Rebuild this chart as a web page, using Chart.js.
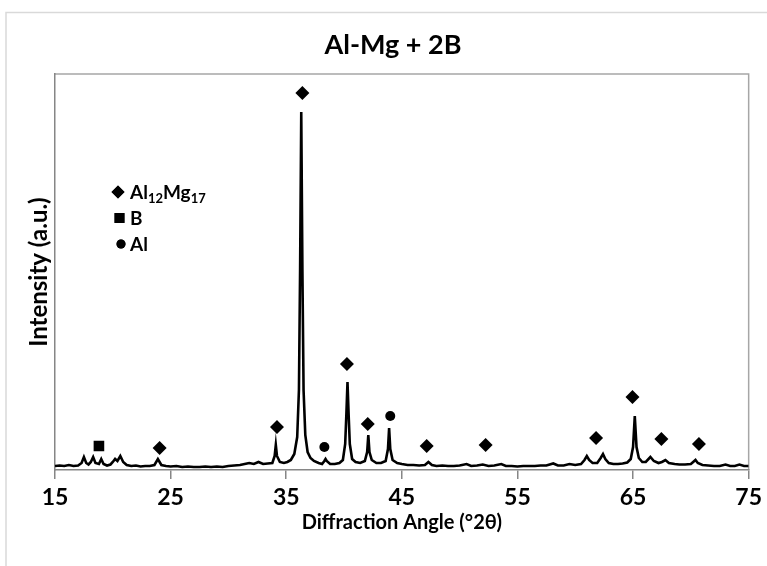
<!DOCTYPE html>
<html>
<head>
<meta charset="utf-8">
<script src="https://cdn.jsdelivr.net/npm/chart.js@4/dist/chart.umd.min.js"></script>
<style>
  html, body { margin: 0; padding: 0; background: #fff; }
  #wrap { width: 767px; height: 566px; position: relative; }
</style>
</head>
<body>
<div id="wrap"><canvas id="xrd"></canvas></div>
<script>
// scan profile: angle (deg 2theta) and intensity (a.u.)
const angles = [
  15.0, 15.4, 15.8, 16.2, 16.6, 17.0, 17.3, 17.5, 17.7, 17.9, 18.1, 18.3, 18.5, 18.8, 19.0, 19.2,
  19.5, 19.8, 20.0, 20.2, 20.4, 20.65, 20.9, 21.2, 21.6, 22.0, 22.4, 22.8, 23.2, 23.6, 23.9, 24.2,
  24.6, 25.0, 25.5, 26.0, 26.5, 27.0, 27.5, 28.0, 28.5, 29.0, 29.5, 30.0, 30.5, 31.0, 31.4, 31.8,
  32.2, 32.6, 33.0, 33.4, 33.8, 34.0, 34.1, 34.2, 34.45, 34.8, 35.1, 35.4, 35.7, 35.95, 36.1, 36.2,
  36.3, 36.4, 36.5, 36.65, 36.85, 37.1, 37.4, 37.8, 38.1, 38.3, 38.4, 38.5, 38.8, 39.2, 39.6, 39.9,
  40.1, 40.2, 40.3, 40.4, 40.5, 40.7, 41.0, 41.4, 41.8, 42.0, 42.1, 42.2, 42.4, 42.8, 43.2, 43.6,
  43.8, 43.9, 44.0, 44.2, 44.6, 45.0, 45.5, 46.0, 46.5, 47.0, 47.3, 47.6, 48.0, 48.5, 49.0, 49.5,
  50.0, 50.6, 51.0, 51.5, 52.0, 52.5, 53.0, 53.6, 54.0, 54.5, 55.0, 55.5, 56.0, 56.5, 57.0, 57.5,
  58.1, 58.5, 59.0, 59.5, 60.0, 60.5, 60.8, 61.0, 61.2, 61.5, 61.9, 62.2, 62.4, 62.6, 62.9, 63.3,
  63.7, 64.1, 64.5, 64.8, 65.0, 65.15, 65.3, 65.5, 65.8, 66.1, 66.5, 66.8, 67.2, 67.5, 67.8, 68.1,
  68.6, 69.0, 69.5, 70.0, 70.2, 70.4, 70.6, 71.0, 71.5, 72.0, 72.5, 73.0, 73.4, 73.8, 74.2, 74.6, 75.0
];
const counts = [
  4, 4.5, 4, 5, 4, 4.5, 7, 13, 7, 5.5, 8, 13, 7, 6, 11, 6,
  4.5, 5.5, 8, 11, 9, 14, 8, 5, 4, 4.5, 3.5, 4, 4, 5, 11, 5,
  4, 3.5, 4, 3, 3.5, 3, 3, 3.5, 3, 3.5, 3, 4, 4.5, 5, 6, 7,
  6, 8, 6, 6.5, 7, 14, 25, 14, 8, 7, 8, 10, 16, 33, 80, 200,
  358, 200, 80, 35, 18, 12, 9, 7, 6, 9, 11, 9, 6, 6, 7, 10,
  26, 55, 88, 55, 26, 11, 8, 7, 9, 18, 35, 18, 10, 7, 7, 9,
  21, 42, 21, 10, 7, 6, 5, 5, 4.5, 5, 8, 5, 4, 4.5, 4, 4,
  4.5, 6, 4, 4.5, 5.5, 4, 4.5, 6, 4, 4, 3.5, 4, 4, 4, 4.5, 4.5,
  6.5, 4.5, 4.5, 6, 5, 6, 10, 14, 10, 7, 7, 12, 16, 11, 7, 6,
  6, 6.5, 7.5, 11, 23, 54, 23, 12, 8, 8, 13, 9, 7, 8, 10, 7,
  6, 5.5, 5.5, 6, 8, 10, 7, 5, 4.5, 4, 4, 5.5, 4, 4, 5.5, 4, 4
];

// phase markers placed above the peaks
const mgAngles = [24.05, 34.2, 36.4, 40.25, 42.05, 47.15, 52.25, 61.8, 64.95, 67.45, 70.7];
const mgHeights = [22, 43, 377, 106, 46, 24, 25, 32, 73, 31, 26];
const bAngles = [18.8];
const bHeights = [24];
const alAngles = [38.3, 44.0];
const alHeights = [23, 54];

const xTicks = [15, 25, 35, 45, 55, 65, 75];
const titleText = 'Al-Mg + 2B';
const xTitle = 'Diffraction Angle (°2θ)';
const yTitle = 'Intensity (a.u.)';
// legend label parts: [text, subscript?]
const legendItems = [
  { style: 'rectRot', parts: [['Al', false], ['12', true], ['Mg', false], ['17', true]] },
  { style: 'rect', parts: [['B', false]] },
  { style: 'circle', parts: [['Al', false]] }
];

const FONT = 'Lato, "Open Sans", sans-serif';

function pairs(xs, ys) {
  return xs.map((x, i) => ({ x: x, y: ys[i] }));
}

const framePlugin = {
  id: 'frame',
  beforeDraw(chart) {
    const ctx = chart.ctx;
    const a = chart.chartArea;
    ctx.save();
    // outer chart border
    ctx.strokeStyle = '#d9d9d9';
    ctx.lineWidth = 1.5;
    ctx.beginPath();
    ctx.moveTo(6, 566);
    ctx.lineTo(6, 12.5);
    ctx.lineTo(767, 12.5);
    ctx.stroke();
    // plot area top/right border
    ctx.strokeStyle = '#a6a6a6';
    ctx.lineWidth = 1.5;
    ctx.beginPath();
    ctx.moveTo(a.left, a.top);
    ctx.lineTo(a.right, a.top);
    ctx.lineTo(a.right, a.bottom);
    ctx.stroke();
    // title
    ctx.fillStyle = '#000';
    ctx.font = 'bold 27px ' + FONT;
    ctx.textAlign = 'center';
    ctx.textBaseline = 'middle';
    ctx.fillText(titleText, 393, 45);
    ctx.restore();
  },
  afterDraw(chart) {
    const ctx = chart.ctx;
    ctx.save();
    let y = 192;
    legendItems.forEach((item, i) => {
      const r = item.style === 'circle' ? 4.5 : (item.style === 'rect' ? 7 : 6.5);
      Chart.helpers.drawPoint(ctx, { pointStyle: item.style, radius: r, borderWidth: 0, rotation: 0 }, 118 + i * 1.5, y);
      ctx.fillStyle = '#000';
      ctx.fill();
      let x = 130;
      ctx.textAlign = 'left';
      ctx.textBaseline = 'alphabetic';
      item.parts.forEach(p => {
        ctx.font = 'bold ' + (p[1] ? 13 : 19) + 'px ' + FONT;
        ctx.fillText(p[0], x, y + (p[1] ? 11 : 7));
        x += ctx.measureText(p[0]).width;
      });
      y += 26;
    });
    ctx.restore();
  }
};

new Chart(document.getElementById('xrd'), {
  type: 'scatter',
  data: {
    datasets: [
      {
        label: 'scan',
        data: pairs(angles, counts),
        showLine: true,
        borderColor: '#000',
        borderWidth: 2.6,
        pointRadius: 0,
        tension: 0
      },
      {
        label: 'Al12Mg17',
        data: pairs(mgAngles, mgHeights),
        pointStyle: 'rectRot',
        pointRadius: 7,
        backgroundColor: '#000',
        borderWidth: 0
      },
      {
        label: 'B',
        data: pairs(bAngles, bHeights),
        pointStyle: 'rect',
        pointRadius: 7.5,
        backgroundColor: '#000',
        borderWidth: 0
      },
      {
        label: 'Al',
        data: pairs(alAngles, alHeights),
        pointStyle: 'circle',
        pointRadius: 5,
        backgroundColor: '#000',
        borderWidth: 0
      }
    ]
  },
  options: {
    responsive: true,
    maintainAspectRatio: false,
    animation: false,
    devicePixelRatio: 1,
    layout: { padding: { left: 0, top: 74, right: 16, bottom: 0 } },
    plugins: {
      legend: { display: false },
      tooltip: { enabled: false },
      title: { display: false }
    },
    scales: {
      x: {
        type: 'linear',
        min: 15,
        max: 75,
        afterFit: s => { s.height = 96; },
        afterBuildTicks: s => { s.ticks = xTicks.map(v => ({ value: v })); },
        grid: { drawOnChartArea: false, drawTicks: true, tickLength: 9, color: '#868686', lineWidth: 1.5 },
        border: { display: true, color: '#868686', width: 1.5 },
        ticks: {
          color: '#000',
          padding: 5,
          maxRotation: 0,
          font: { family: FONT, size: 23, weight: 'bold' }
        },
        title: {
          display: true,
          text: xTitle,
          color: '#000',
          font: { family: FONT, size: 20, weight: 'bold' },
          padding: { top: 0, bottom: 31 }
        }
      },
      y: {
        min: 0,
        max: 396,
        afterFit: s => { s.width = 55; },
        grid: { display: false },
        border: { display: true, color: '#868686', width: 1.5 },
        ticks: { display: false },
        title: {
          display: true,
          text: yTitle,
          color: '#000',
          font: { family: FONT, size: 24, weight: 'bold' },
          padding: { top: 25, bottom: 0 }
        }
      }
    }
  },
  plugins: [framePlugin]
});
</script>
</body>
</html>
